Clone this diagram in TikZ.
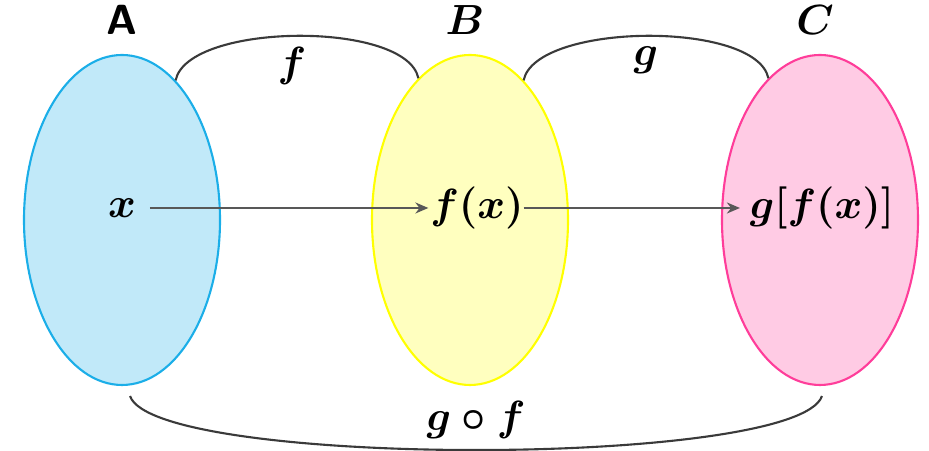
\documentclass[tikz,border=0pt]{standalone}
\usepackage{xcolor}
\definecolor{cSetA}{HTML}{1BAEE8}
\definecolor{cSetB}{HTML}{FFFF00}
\definecolor{cSetC}{HTML}{FF3D9A}
\definecolor{cLine}{HTML}{3A3A3A}
\usepackage{tikz}
\usetikzlibrary{positioning,arrows.meta,shapes.geometric,calc}
\tikzset{
  node-set/.style={ellipse,semithick,minimum width=19.6mm,minimum height=33mm,inner sep=0pt},
  node-set-a/.style={draw=cSetA,fill=cSetA!27},
  node-set-b/.style={draw=cSetB,fill=cSetB!25},
  node-set-c/.style={draw=cSetC,fill=cSetC!27},
  node-name/.style={font=\large\boldmath,inner sep=1pt},
  node-elem/.style={font=\large\boldmath,inner sep=1.5pt},
  arrow/.style={-{Stealth[length=1.3mm,width=1.1mm]},draw=cLine!85,semithick},
  arc-map/.style={draw=cLine,semithick},
}

\begin{document}
\begin{tikzpicture}
  \useasboundingbox (0,0) rectangle (9.29,4.51);
  % the three sets
  \node[node-set,node-set-a] (A) at (1.22,2.31) {};
  \node[node-set,node-set-b] (B) at (4.70,2.31) {};
  \node[node-set,node-set-c] (C) at (8.20,2.31) {};
  \node[node-name,above=1.5mm of A] (nameA) {\textsf{\textbf{A}}};
  \node[node-name,above=1.5mm of B,xshift=-0.5mm] (nameB) {$B$};
  \node[node-name,above=1.5mm of C,xshift=-0.5mm] (nameC) {$C$};
  % elements
  \node[node-elem] (x) at (1.22,2.43) {$x$};
  \node[node-elem] (fx) at (4.77,2.43) {$f(x)$};
  \node[node-elem] (gfx) at (8.22,2.43) {$g[f(x)]$};
  \draw[arrow] ([xshift=0.8mm]x.east) -- ([xshift=0.4mm]fx.west);
  \draw[arrow] ([xshift=-0.6mm]fx.east) -- ([xshift=-0.4mm]gfx.west);
  % maps
  \coordinate (fStart) at (A.69);
  \coordinate (fEnd) at (B.110);
  \coordinate (gStart) at (B.69);
  \coordinate (gEnd) at (C.110);
  \coordinate (gfStart) at ($(A.south)+(0.08,-0.1)$);
  \coordinate (gfEnd) at ($(C.south)+(0.02,-0.1)$);
  \draw[arc-map] (fStart) .. controls ($(fStart)+(0.12,0.58)$) and ($(fEnd)+(-0.12,0.58)$) .. (fEnd)
    node[midway,node-elem,below=0.5mm,xshift=-0.5mm] (labF) {$f$};
  \draw[arc-map] (gStart) .. controls ($(gStart)+(0.12,0.58)$) and ($(gEnd)+(-0.12,0.58)$) .. (gEnd)
    node[midway,node-elem,below=0.5mm] (labG) {$g$};
  \draw[arc-map] (gfStart) .. controls ($(gfStart)+(0.25,-0.72)$) and ($(gfEnd)+(-0.25,-0.72)$) .. (gfEnd)
    node[midway,node-elem,above=0.5mm] (labGF) {$g\circ f$};
\end{tikzpicture}
\end{document}
